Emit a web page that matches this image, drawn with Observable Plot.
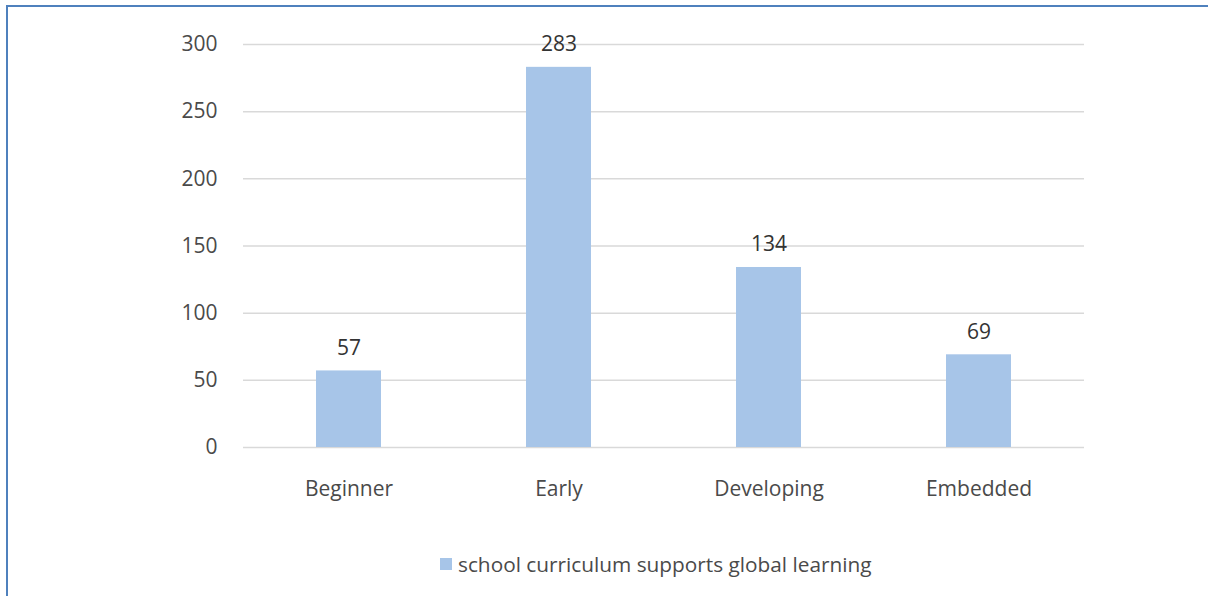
<!DOCTYPE html>
<html>
<head>
<meta charset="utf-8">
<script src="https://cdn.jsdelivr.net/npm/d3@7"></script>
<script src="https://cdn.jsdelivr.net/npm/@observablehq/plot@0.6"></script>
<style>
  html, body { margin: 0; padding: 0; background: #fff; }
  body { width: 1208px; height: 596px; position: relative; overflow: hidden; font-family: "Open Sans", sans-serif; }
  #frame { position: absolute; left: 6px; top: 5px; right: -10px; bottom: -10px; border-left: 2px solid #4f81bd; border-top: 2px solid #4f81bd; }
  #chart { position: absolute; left: 0; top: 0; }
  #legend { position: absolute; top: 550px; left: 0; width: 1208px; font-size: 20.8px; color: #4a4a4a; }
  #legend .inner { position: absolute; left: 440px; display: flex; align-items: center; white-space: nowrap; }
  #legend .sw { width: 12px; height: 12px; background: #a7c5e8; margin-right: 6px; }
</style>
</head>
<body>
<div id="frame"></div>
<div id="chart"></div>
<div id="legend"><div class="inner"><span class="sw"></span><span id="legtext"></span></div></div>
<script>
const categories = ["Beginner", "Early", "Developing", "Embedded"];
const values = [57, 283, 134, 69];
const yTicks = [0, 50, 100, 150, 200, 250, 300];
const seriesName = "school curriculum supports global learning";

const data = categories.map((c, i) => ({category: c, value: values[i]}));

const chart = Plot.plot({
  width: 1208,
  height: 530,
  marginLeft: 243,
  marginRight: 124,
  marginTop: 44,
  marginBottom: 83,
  style: {fontFamily: "'Open Sans', sans-serif", background: "transparent"},
  x: {domain: categories, paddingInner: 0.69, paddingOuter: 0.345, label: null},
  y: {domain: [0, 300], label: null},
  marks: [
    Plot.gridY(yTicks, {stroke: "#d9d9d9", strokeOpacity: 1, strokeWidth: 1.5}),
    Plot.barY(data, {x: "category", y: "value", fill: "#a7c5e8"}),
    Plot.text(data, {x: "category", y: "value", text: d => String(d.value), dy: -23, fontSize: 21, fill: "#333333"}),
    Plot.axisY(yTicks, {tickSize: 0, tickPadding: 26, fontSize: 21, fill: "#4a4a4a", label: null}),
    Plot.axisX({tickSize: 0, tickPadding: 34, fontSize: 21, fill: "#4a4a4a", label: null})
  ]
});
document.getElementById("chart").appendChild(chart);
document.getElementById("legtext").textContent = seriesName;
</script>
</body>
</html>
